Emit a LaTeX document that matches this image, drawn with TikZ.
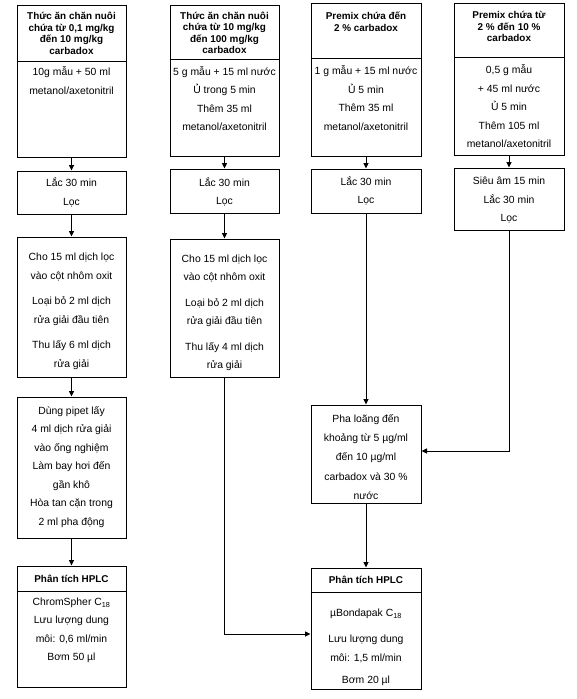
\documentclass[tikz,border=0pt]{standalone}
\usepackage{fontspec}
\setmainfont{Liberation Sans}
\usetikzlibrary{arrows.meta,fit}
\newcommand\bodyfont{\fontsize{10.4}{18.5}\selectfont}
\newcommand\hdfont{\bfseries\fontsize{9.9}{11.5}\selectfont}
\tikzset{
  box/.style={draw, line width=1pt, inner sep=0pt},
  hd/.style={align=center, inner sep=0pt, font=\hdfont},
  bd/.style={align=center, inner sep=0pt, font=\bodyfont},
  arr/.style={line width=0.9pt, -{Triangle[length=5.5pt,width=5pt]}},
  ln/.style={line width=1pt}
}
\begin{document}
\begin{tikzpicture}[x=1pt,y=-1pt]
\useasboundingbox (0,0) rectangle (576,699);
% column 1
\node[box, fit={(17,5) (126,157)}] (A1) {};
\draw[ln] (A1.west |- 0,61) -- (A1.east |- 0,61);
\node[hd] (A1h) at (71.5,33.5) {Thức ăn chăn nuôi\\chứa từ 0,1 mg/kg\\đến 10 mg/kg\\carbadox};
\node[bd] (A1b) at (71.5,80.5) {10g mẫu + 50 ml\\metanol/axetonitril};
\node[box, fit={(17,171) (126,214)}] (B1) {};
\node[bd] (B1t) at (71.5,192.5) {Lắc 30 min\\Lọc};
\node[box, fit={(17,237) (126,377)}] (C1) {};
\node[bd] (C1t) at (71.5,311.3) {Cho 15 ml dịch lọc\\vào cột nhôm oxit\\[7pt]Loại bỏ 2 ml dịch\\rửa giải đầu tiên\\[7pt]Thu lấy 6 ml dịch\\rửa giải};
\node[box, fit={(17,397) (126,538)}] (D1) {};
\node[bd] (D1t) at (71.5,467) {Dùng pipet lấy\\4 ml dịch rửa giải\\vào ống nghiệm\\Làm bay hơi đến\\gần khô\\Hòa tan cặn trong\\2 ml pha động};
\node[box, fit={(17,566) (126,687)}] (E1) {};
\draw[ln] (E1.west |- 0,591) -- (E1.east |- 0,591);
\node[hd] (E1h) at (71.5,578.5) {Phân tích HPLC};
\node[bd] (E1b) at (71.5,630.5) {ChromSpher C\textsubscript{18}\\Lưu lượng dung\\môi: 0,6 ml/min\\Bơm 50 µl};
% column 2
\node[box, fit={(170,5) (279,156)}] (A2) {};
\draw[ln] (A2.west |- 0,59) -- (A2.east |- 0,59);
\node[hd] (A2h) at (224.5,33) {Thức ăn chăn nuôi\\chứa từ 10 mg/kg\\đến 100 mg/kg\\carbadox};
\node[bd] (A2b) at (224.5,98.5) {5 g mẫu + 15 ml nước\\Ủ trong 5 min\\Thêm 35 ml\\metanol/axetonitril};
\node[box, fit={(170,169) (279,213)}] (B2) {};
\node[bd] (B2t) at (224.5,191.8) {Lắc 30 min\\Lọc};
\node[box, fit={(170,239) (279,377)}] (C2) {};
\node[bd] (C2t) at (224.5,312.8) {Cho 15 ml dịch lọc\\vào cột nhôm oxit\\[7pt]Loại bỏ 2 ml dịch\\rửa giải đầu tiên\\[7pt]Thu lấy 4 ml dịch\\rửa giải};
% column 3
\node[box, fit={(311,3) (421,156)}] (A3) {};
\draw[ln] (A3.west |- 0,58) -- (A3.east |- 0,58);
\node[hd] (A3h) at (366,21.5) {Premix chứa đến\\2 \% carbadox};
\node[bd] (A3b) at (366,98) {1 g mẫu + 15 ml nước\\Ủ 5 min\\Thêm 35 ml\\metanol/axetonitril};
\node[box, fit={(311,169) (421,213)}] (B3) {};
\node[bd] (B3t) at (366,190.8) {Lắc 30 min\\Lọc};
\node[box, fit={(311,405) (421,503)}] (D3) {};
\node[bd, font=\fontsize{10.4}{19.25}\selectfont] (D3t) at (366,457) {Pha loãng đến\\khoảng từ 5 µg/ml\\đến 10 µg/ml\\carbadox và 30 \%\\nước};
\node[box, fit={(311,568) (421,689)}] (E3) {};
\draw[ln] (E3.west |- 0,592) -- (E3.east |- 0,592);
\node[hd] (E3h) at (366,580) {Phân tích HPLC};
\node[bd] (E3b) at (366,647.2) {µBondapak C\textsubscript{18}\\[8pt]Lưu lượng dung\\môi: 1,5 ml/min\\[3.5pt]Bơm 20 µl};
% column 4
\node[box, fit={(454,3) (564,155)}] (A4) {};
\draw[ln] (A4.west |- 0,57) -- (A4.east |- 0,57);
\node[hd] (A4h) at (509,26.5) {Premix chứa từ\\2 \% đến 10 \%\\carbadox};
\node[bd] (A4b) at (509,106.5) {0,5 g mẫu\\+ 45 ml nước\\Ủ 5 min\\Thêm 105 ml\\metanol/axetonitril};
\node[box, fit={(454,168) (564,230)}] (B4) {};
\node[bd] (B4t) at (509,200.5) {Siêu âm 15 min\\Lắc 30 min\\Lọc};
% connectors
\draw[arr] (A1) -- (B1);
\draw[arr] (B1) -- (C1);
\draw[arr] (C1) -- (D1);
\draw[arr] (D1) -- (E1);
\draw[arr] (A2) -- (B2);
\draw[arr] (B2) -- (C2);
\draw[arr] (C2.south) |- ([yshift=-5.5pt]E3.west);
\draw[arr] (A3) -- (B3);
\draw[arr] (B3) -- (D3);
\draw[arr] (D3) -- (E3);
\draw[arr] (A4) -- (B4);
\draw[arr] (B4.south) |- ([yshift=3pt]D3.east);
\end{tikzpicture}
\end{document}
